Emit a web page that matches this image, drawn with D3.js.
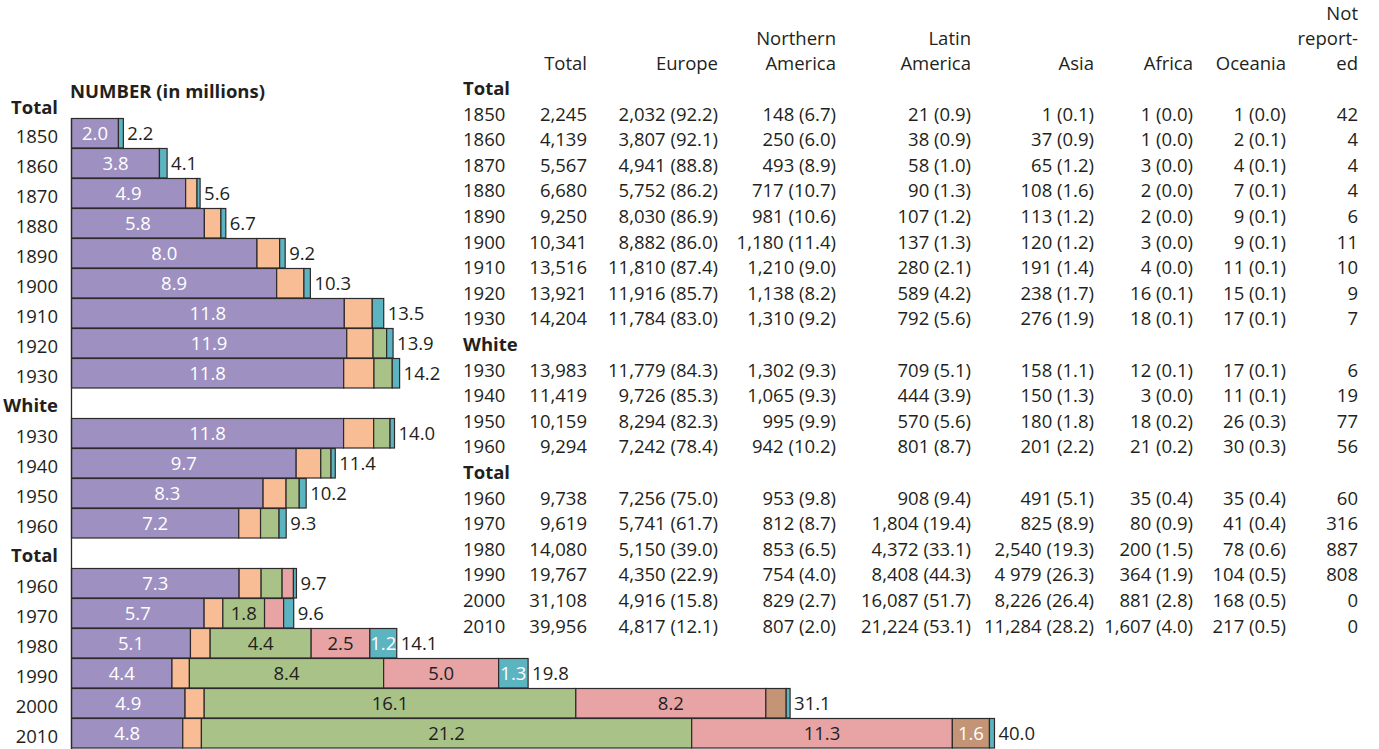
<!DOCTYPE html>
<html><head><meta charset="utf-8">
<script src="https://cdn.jsdelivr.net/npm/d3@7"></script>
<style>
html,body{margin:0;padding:0;background:#fff;}
svg text{font-family:"Open Sans",sans-serif;font-size:18.5px;fill:#231f20;}
</style></head><body>
<svg id="chart" width="1379" height="749"></svg>
<script>
// ---------- DATA (thousands unless noted) ----------
const rowGroup = ["Total","Total","Total","Total","Total","Total","Total","Total","Total",
                  "White","White","White","White",
                  "Total","Total","Total","Total","Total","Total"];
const rowYears = [1850,1860,1870,1880,1890,1900,1910,1920,1930, 1930,1940,1950,1960, 1960,1970,1980,1990,2000,2010];
const totalK   = [2245,4139,5567,6680,9250,10341,13516,13921,14204, 13983,11419,10159,9294, 9738,9619,14080,19767,31108,39956];
const europeK  = [2032,3807,4941,5752,8030,8882,11810,11916,11784, 11779,9726,8294,7242, 7256,5741,5150,4350,4916,4817];
const europePct= [92.2,92.1,88.8,86.2,86.9,86.0,87.4,85.7,83.0, 84.3,85.3,82.3,78.4, 75.0,61.7,39.0,22.9,15.8,12.1];
const northAmK = [148,250,493,717,981,1180,1210,1138,1310, 1302,1065,995,942, 953,812,853,754,829,807];
const northAmPct=[6.7,6.0,8.9,10.7,10.6,11.4,9.0,8.2,9.2, 9.3,9.3,9.9,10.2, 9.8,8.7,6.5,4.0,2.7,2.0];
const latinK   = [21,38,58,90,107,137,280,589,792, 709,444,570,801, 908,1804,4372,8408,16087,21224];
const latinPct = [0.9,0.9,1.0,1.3,1.2,1.3,2.1,4.2,5.6, 5.1,3.9,5.6,8.7, 9.4,19.4,33.1,44.3,51.7,53.1];
const asiaK    = [1,37,65,108,113,120,191,238,276, 158,150,180,201, 491,825,2540,4979,8226,11284];
const asiaPct  = [0.1,0.9,1.2,1.6,1.2,1.2,1.4,1.7,1.9, 1.1,1.3,1.8,2.2, 5.1,8.9,19.3,26.3,26.4,28.2];
const africaK  = [1,1,3,2,2,3,4,16,18, 12,3,18,21, 35,80,200,364,881,1607];
const africaPct= [0.0,0.0,0.0,0.0,0.0,0.0,0.0,0.1,0.1, 0.1,0.0,0.2,0.2, 0.4,0.9,1.5,1.9,2.8,4.0];
const oceaniaK = [1,2,4,7,9,9,11,15,17, 17,11,26,30, 35,41,78,104,168,217];
const oceaniaPct=[0.0,0.1,0.1,0.1,0.1,0.1,0.1,0.1,0.1, 0.1,0.1,0.3,0.3, 0.4,0.4,0.6,0.5,0.5,0.5];
const notReportedK = [42,4,4,4,6,11,10,9,7, 6,19,77,56, 60,316,887,808,0,0];
// thousands separator as printed (the 1990 Asia cell is printed with a space)
const asiaSep = [",",",",",",",",",",",",",",",",",", ",",",",",",",", ",",",",","," ",",",","];

// which regions are broken out as their own bar segment (rest goes into "other")
const naShown     = [0,0,1,1,1,1,1,1,1, 1,1,1,1, 1,1,1,1,1,1];
const latinShown  = [0,0,0,0,0,0,0,1,1, 1,1,1,1, 1,1,1,1,1,1];
const asiaShown   = [0,0,0,0,0,0,0,0,0, 0,0,0,0, 1,1,1,1,1,1];
const africaShown = [0,0,0,0,0,0,0,0,0, 0,0,0,0, 0,0,0,0,1,1];

// labels printed on the bars (millions)
const europeBarLabel = [2.0,3.8,4.9,5.8,8.0,8.9,11.8,11.9,11.8, 11.8,9.7,8.3,7.2, 7.3,5.7,5.1,4.4,4.9,4.8];
const totalBarLabel  = [2.2,4.1,5.6,6.7,9.2,10.3,13.5,13.9,14.2, 14.0,11.4,10.2,9.3, 9.7,9.6,14.1,19.8,31.1,40.0];

const segKeys   = ["Europe","Northern America","Latin America","Asia","Africa","Other"];
const segColors = ["#9e91c1","#f9bd96","#a9c288","#e8a3a5","#c49476","#5cb4c0"];
const segLabelColor = ["#ffffff","#231f20","#231f20","#231f20","#ffffff","#ffffff"];

const colHeaderLines = [["Total"],["Europe"],["Northern","America"],["Latin","America"],["Asia"],["Africa"],["Oceania"],["Not","report-","ed"]];

// ---------- LAYOUT ----------
const svg = d3.select("#chart");
const fmtC = d3.format(",");
const f1 = d3.format(".1f");

// build row list with section headings
const layout = [];
rowGroup.forEach((g,i)=>{
  if (i===0 || rowGroup[i-1]!==g) layout.push({type:"head", label:g});
  layout.push({type:"row", i});
});

const yBand = d3.scaleBand().domain(d3.range(layout.length)).range([88, 748]).padding(0);
const x = d3.scaleLinear().domain([0,40]).range([71.5, 71.5+924]);
const yTab = d3.scaleLinear().domain([0, layout.length-1]).range([95, 632.6]);
const colRight = [587, 718, 836, 971, 1094, 1193, 1286, 1358];
const yearX = 463;
const headerBase = [20.2, 44.9, 69.6];

// ---------- BAR CHART ----------
svg.append("text").attr("x",70).attr("y",98).attr("font-weight","bold").text("NUMBER (in millions)");

const barG = svg.append("g");
layout.forEach((L,k)=>{
  const top = yBand(k);
  if (L.type==="head"){
    svg.append("text").attr("x",58).attr("y", top + (k===0?26:24)).attr("text-anchor","end")
      .attr("font-weight","bold").text(L.label);
    return;
  }
  const i = L.i;
  svg.append("text").attr("x",58).attr("y",top+24.7).attr("text-anchor","end").text(rowYears[i]);
  const vals = [
    europeK[i]/1000,
    naShown[i]? northAmK[i]/1000 : 0,
    latinShown[i]? latinK[i]/1000 : 0,
    asiaShown[i]? asiaK[i]/1000 : 0,
    africaShown[i]? africaK[i]/1000 : 0
  ];
  vals.push(totalK[i]/1000 - d3.sum(vals));
  let cum = 0;
  const segs = vals.map((v,j)=>{ const s={j, v, x0:cum, x1:cum+v}; cum+=v; return s; }).filter(s=>s.v>0);
  barG.selectAll(null).data(segs).enter().append("rect")
    .attr("x", s=>x(s.x0)).attr("width", s=>x(s.x1)-x(s.x0))
    .attr("y", top+0.5).attr("height", 29.5)
    .attr("fill", s=>segColors[s.j]).attr("stroke","#2d2a2b").attr("stroke-width",1.2);
  segs.filter(s=> s.j===0 || (s.j!==1 && s.v>=1)).forEach(s=>{
    svg.append("text").attr("x",(x(s.x0)+x(s.x1))/2).attr("y",top+22)
      .attr("text-anchor","middle").style("fill",segLabelColor[s.j])
      .text(s.j===0 ? f1(europeBarLabel[i]) : f1(s.v));
  });
  svg.append("text").attr("x", x(totalK[i]/1000)+4).attr("y",top+22).text(f1(totalBarLabel[i]));
});
// left axis line
svg.append("line").attr("x1",71.5).attr("x2",71.5).attr("y1",yBand(1)).attr("y2",749)
  .attr("stroke","#2d2a2b").attr("stroke-width",1.3);

// ---------- TABLE ----------
colHeaderLines.forEach((lines,c)=>{
  lines.forEach((t,li)=>{
    svg.append("text").attr("x",colRight[c]).attr("y", headerBase[3-lines.length+li])
      .attr("text-anchor","end").text(t);
  });
});
const cell = (v,p,sep)=> (sep? fmtC(v).replace(/,/g,sep) : fmtC(v)) + " (" + f1(p) + ")";
layout.forEach((L,k)=>{
  const yy = yTab(k);
  if (L.type==="head"){
    svg.append("text").attr("x",yearX).attr("y",yy).attr("font-weight","bold").text(L.label);
    return;
  }
  const i = L.i;
  svg.append("text").attr("x",yearX).attr("y",yy).text(rowYears[i]);
  const cells = [
    fmtC(totalK[i]),
    cell(europeK[i],europePct[i]),
    cell(northAmK[i],northAmPct[i]),
    cell(latinK[i],latinPct[i]),
    cell(asiaK[i],asiaPct[i],asiaSep[i]),
    cell(africaK[i],africaPct[i]),
    cell(oceaniaK[i],oceaniaPct[i]),
    fmtC(notReportedK[i])
  ];
  cells.forEach((t,c)=>{
    svg.append("text").attr("x",colRight[c]).attr("y",yy).attr("text-anchor","end").text(t);
  });
});
</script></body></html>
